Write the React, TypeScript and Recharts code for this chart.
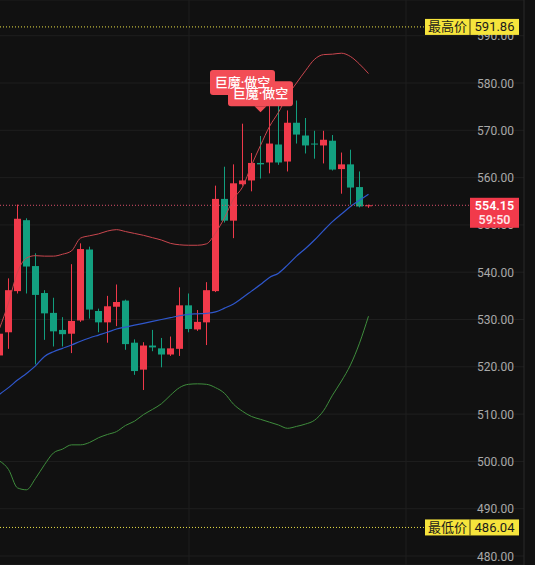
import React from "react";
import {
  ComposedChart, Bar, Line, XAxis, YAxis, CartesianGrid, ReferenceLine, ReferenceDot,
} from "recharts";

// candle data, oldest -> newest
const opens = [
  522.4, 527.3, 536.0, 551.0, 541.3, 535.6, 531.4, 527.8, 527.0, 529.8,
  544.8, 531.8, 529.4, 532.7, 534.0, 525.1, 519.4, 524.5, 523.9, 522.6,
  523.8, 533.0, 527.9, 529.4, 536.0, 555.5, 550.9, 558.6, 559.4, 563.1,
  563.2, 567.0, 563.4, 571.6, 568.9, 567.2, 566.8, 567.8, 561.8, 562.8,
  558.0, 554.0,
];
const closes = [
  527.0, 536.2, 551.3, 541.2, 535.2, 531.3, 527.5, 526.9, 529.7, 544.9,
  532.1, 529.4, 532.8, 533.7, 524.8, 519.1, 524.5, 524.1, 522.6, 523.9,
  533.0, 528.0, 529.5, 536.2, 555.5, 550.9, 558.8, 559.4, 563.1, 562.8,
  567.2, 563.2, 571.6, 569.1, 566.8, 567.0, 568.0, 561.7, 562.8, 557.9,
  553.9, 554.15,
];
const highs = [
  528.5, 538.7, 554.3, 551.4, 544.0, 536.2, 534.6, 530.5, 541.7, 546.1,
  545.4, 532.3, 535.0, 537.4, 534.2, 525.8, 525.2, 527.8, 526.1, 526.4,
  536.8, 535.5, 532.0, 537.9, 558.3, 562.3, 562.8, 571.4, 565.2, 568.8,
  577.0, 575.9, 574.2, 576.3, 572.6, 569.9, 569.9, 569.0, 565.3, 565.9,
  561.3, 554.3,
];
const lows = [
  521.0, 523.8, 535.5, 535.5, 520.5, 525.7, 524.3, 524.3, 522.9, 529.5,
  530.2, 527.3, 525.1, 528.6, 523.6, 518.3, 515.1, 523.3, 519.9, 522.3,
  522.3, 527.3, 527.6, 524.6, 535.8, 550.5, 547.2, 558.3, 557.1, 559.8,
  560.9, 562.7, 561.3, 567.2, 565.1, 564.0, 563.0, 561.5, 556.6, 554.3,
  553.7, 553.6,
];

// bollinger bands
const upper = [
  528.1, 533.5, 540.0, 543.0, 543.5, 543.4, 543.4, 543.8, 544.5, 547.2,
  547.7, 548.1, 548.7, 549.0, 548.6, 548.2, 547.8, 547.3, 546.8, 546.1,
  545.8, 545.7, 545.7, 546.0, 548.3, 551.5, 555.5, 558.0, 562.6, 566.8,
  570.8, 573.8, 577.3, 580.0, 582.6, 585.0, 586.0, 586.1, 586.3, 585.6,
  584.0, 582.0,
];
const mid = [
  514.2, 515.6, 517.2, 518.6, 520.2, 522.2, 523.2, 523.9, 524.6, 525.4,
  526.1, 526.7, 527.3, 528.0, 528.4, 528.8, 529.2, 529.6, 530.0, 530.4,
  530.8, 531.1, 531.2, 531.3, 531.6, 532.4, 533.3, 534.6, 536.0, 537.4,
  538.9, 539.8, 541.5, 543.4, 545.0, 546.8, 548.8, 550.7, 552.3, 553.9,
  555.2, 556.5,
];
const lower = [
  500.1, 498.3, 494.4, 494.0, 496.4, 499.3, 501.8, 502.6, 503.5, 503.5,
  504.0, 505.0, 505.7, 506.3, 507.6, 508.5, 509.9, 511.0, 512.2, 514.0,
  515.6, 516.3, 516.4, 516.3, 515.6, 514.4, 512.1, 510.6, 509.5, 508.9,
  508.3, 507.7, 507.0, 507.4, 507.9, 508.7, 510.7, 514.0, 517.0, 520.4,
  525.0, 530.7,
];

const yTicks = [480, 490, 500, 510, 520, 530, 540, 550, 560, 570, 580, 590];
const highestPrice = 591.86;
const lowestPrice = 486.04;
const countdown = "59:50";
const signalIdx = [27, 29];
const signalPrice = [576.2, 573.8];
const signalText = "巨魔·做空";

const data = opens.map((o, i) => ({
  i,
  open: o,
  close: closes[i],
  high: highs[i],
  low: lows[i],
  upper: upper[i],
  mid: mid[i],
  lower: lower[i],
}));

const UP = "#f23a4b";
const DOWN = "#13a080";
const BG = "#111111";
const FONT = "Roboto, 'Noto Sans CJK SC', sans-serif";
const AXIS_X = 524;
const X_DOMAIN = [0.0556, 58.278];
const Y_DOMAIN = [478.1, 597.55];
const MARGIN = { top: 0, right: 0, left: 0, bottom: 0 };
const TAG_RED = "#f24d56";

const Candle = (props: any) => {
  const { x, y, width, height, payload } = props;
  const { open, close, high, low } = payload;
  const cx = x + width / 2;
  const k = high - low > 0 ? height / (high - low) : 0;
  const top = y + (high - Math.max(open, close)) * k;
  const bot = y + (high - Math.min(open, close)) * k;
  const color = close >= open ? UP : DOWN;
  return (
    <g>
      <line x1={cx} x2={cx} y1={y} y2={y + height} stroke={color} strokeWidth={1} />
      <rect x={cx - 3.5} y={top} width={7} height={Math.max(1, bot - top)} fill={color} />
    </g>
  );
};

const PriceTick = (props: any) => {
  const { y, payload } = props;
  return (
    <text x={AXIS_X - 10} y={y + 4.5} textAnchor="end" fontSize={12} fill="#a9a9a9" fontFamily={FONT}>
      {payload.value.toFixed(2)}
    </text>
  );
};

const ExtremeTag = (p: any, label: string, value: number) => {
  const y = p.y1;
  return (
    <g>
      <line x1={0} x2={425} y1={y} y2={y} stroke="#e8df45" strokeWidth={1} strokeDasharray="1 2" />
      <rect x={425} y={y - 8} width={94} height={16} fill="#f6e43c" />
      <line x1={470} x2={470} y1={y - 8} y2={y + 8} stroke="#3a3410" strokeWidth={1} />
      <text x={447.5} y={y + 4.5} textAnchor="middle" fontSize={13} fill="#1b1b1b" fontFamily={FONT}>{label}</text>
      <text x={494.5} y={y + 4.5} textAnchor="middle" fontSize={13} fill="#1b1b1b" fontFamily={FONT}>{value.toFixed(2)}</text>
    </g>
  );
};

const LastTag = (p: any) => {
  const y = p.y1;
  return (
    <g>
      <line x1={0} x2={470} y1={y} y2={y} stroke="#d9506a" strokeWidth={1} strokeDasharray="1 2" />
      <rect x={470} y={y - 7.5} width={49} height={30} fill={UP} />
      <text x={494.5} y={y + 4.5} textAnchor="middle" fontSize={12.5} fontWeight={600} fill="#ffffff" fontFamily={FONT}>
        {closes[closes.length - 1].toFixed(2)}
      </text>
      <text x={494.5} y={y + 19} textAnchor="middle" fontSize={12.5} fontWeight={600} fill="#ffe3e6" fontFamily={FONT}>
        {countdown}
      </text>
    </g>
  );
};

// signal bubble: box + pointer, text drawn in a later pass so both labels stay readable
const SignalBox = (p: any) => {
  const { cx, cy } = p;
  const bottom = cy - 6;
  return (
    <g>
      <rect x={cx - 32.5} y={bottom - 25} width={65} height={25} rx={3} fill={TAG_RED} />
      <path d={`M${cx - 6},${bottom} L${cx + 6},${bottom} L${cx},${cy} Z`} fill={TAG_RED} />
    </g>
  );
};

const SignalLabel = (p: any) => {
  const { cx, cy } = p;
  return (
    <text x={cx} y={cy - 14} textAnchor="middle" fontSize={13} fontWeight={500} fill="#ffffff" fontFamily={FONT}>
      {signalText}
    </text>
  );
};

export default function App() {
  return (
    <div style={{ position: "absolute", left: 0, top: 0, width: 535, height: 565, background: BG }}>
      <ComposedChart width={535} height={565} data={data} margin={MARGIN}>
        <CartesianGrid stroke="#1f1f1f" verticalPoints={[189, 406]} />
        <XAxis type="number" dataKey="i" domain={X_DOMAIN} hide allowDataOverflow />
        <YAxis
          orientation="right"
          domain={Y_DOMAIN}
          ticks={yTicks}
          interval={0}
          width={11}
          tickSize={0}
          tickMargin={0}
          tickLine={false}
          axisLine={{ stroke: "#2a2a2a" }}
          tick={PriceTick}
          allowDataOverflow
        />
        <Line type="monotone" dataKey="upper" stroke="#c9464e" strokeWidth={1} dot={false} isAnimationActive={false} />
        <Line type="monotone" dataKey="mid" stroke="#2f57cc" strokeWidth={1.2} dot={false} isAnimationActive={false} />
        <Line type="monotone" dataKey="lower" stroke="#3e8c3c" strokeWidth={1} dot={false} isAnimationActive={false} />
        <Bar dataKey={(d: any) => [d.low, d.high]} barSize={7} shape={Candle} isAnimationActive={false} />
        {signalIdx.map((idx, k) => (
          <ReferenceDot key={`b${k}`} x={idx} y={signalPrice[k]} shape={SignalBox} />
        ))}
        {signalIdx.map((idx, k) => (
          <ReferenceDot key={`t${k}`} x={idx} y={signalPrice[k]} shape={SignalLabel} />
        ))}
      </ComposedChart>

      {/* overlay so the price tags sit above the axis labels */}
      <div style={{ position: "absolute", left: 0, top: 0, pointerEvents: "none" }}>
        <ComposedChart width={535} height={565} data={data} margin={MARGIN}>
          <XAxis type="number" dataKey="i" domain={X_DOMAIN} hide allowDataOverflow />
          <YAxis orientation="right" domain={Y_DOMAIN} width={11} tick={false} tickLine={false} axisLine={false} allowDataOverflow />
          <ReferenceLine y={highestPrice} shape={(p: any) => ExtremeTag(p, "最高价", highestPrice)} />
          <ReferenceLine y={lowestPrice} shape={(p: any) => ExtremeTag(p, "最低价", lowestPrice)} />
          <ReferenceLine y={closes[closes.length - 1]} shape={LastTag} />
        </ComposedChart>
      </div>
    </div>
  );
}
